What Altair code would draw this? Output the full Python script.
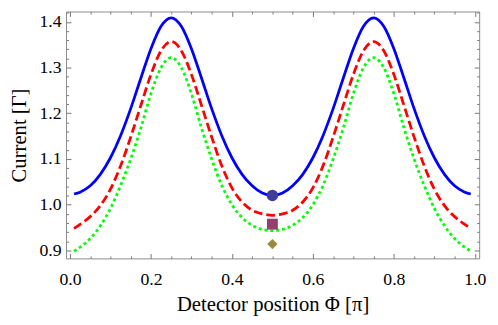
import altair as alt
import pandas as pd

# ---- data ----
x_vals = [0.01, 0.025, 0.05, 0.075, 0.1, 0.125, 0.15, 0.175, 0.2, 0.225, 0.25,
          0.275, 0.3, 0.325, 0.35, 0.375, 0.4, 0.425, 0.45, 0.475, 0.5,
          0.525, 0.55, 0.575, 0.6, 0.625, 0.65, 0.675, 0.7, 0.725, 0.75,
          0.775, 0.8, 0.825, 0.85, 0.875, 0.9, 0.925, 0.95, 0.975, 0.99]
blue_vals = [1.0235, 1.0275, 1.0414, 1.0665, 1.1028, 1.151, 1.2102, 1.2767, 1.3415, 1.3905, 1.409,
             1.3905, 1.3415, 1.2767, 1.2102, 1.151, 1.1028, 1.0665, 1.0414, 1.0255, 1.020,
             1.0255, 1.0414, 1.0665, 1.1028, 1.151, 1.2102, 1.2767, 1.3415, 1.3905, 1.409,
             1.3905, 1.3415, 1.2767, 1.2102, 1.151, 1.1028, 1.0665, 1.0414, 1.0275, 1.0235]
red_vals = [0.948, 0.957, 0.974, 0.998, 1.034, 1.085, 1.148, 1.217, 1.285, 1.337, 1.357,
            1.337, 1.285, 1.217, 1.148, 1.085, 1.037, 1.006, 0.988, 0.980, 0.977,
            0.980, 0.988, 1.006, 1.037, 1.085, 1.148, 1.217, 1.285, 1.337, 1.357,
            1.337, 1.285, 1.217, 1.148, 1.085, 1.034, 0.998, 0.974, 0.957, 0.948]
green_vals = [0.8985, 0.907, 0.926, 0.954, 0.992, 1.042, 1.100, 1.1675, 1.243, 1.300, 1.3216,
              1.300, 1.243, 1.1675, 1.100, 1.042, 1.000, 0.972, 0.955, 0.946, 0.9434,
              0.946, 0.955, 0.972, 1.000, 1.042, 1.100, 1.1675, 1.243, 1.300, 1.3216,
              1.300, 1.243, 1.1675, 1.100, 1.042, 0.992, 0.954, 0.926, 0.907, 0.8985]

point_x = [0.5, 0.5, 0.5]
point_y = [1.0204, 0.9575, 0.914]
point_name = ["circle", "square", "diamond"]

x_major = [0.0, 0.2, 0.4, 0.6, 0.8, 1.0]
x_minor = [0.05, 0.1, 0.15, 0.25, 0.3, 0.35, 0.45, 0.5, 0.55, 0.65, 0.7, 0.75, 0.85, 0.9, 0.95]
y_major = [0.9, 1.0, 1.1, 1.2, 1.3, 1.4]
y_minor = [0.92, 0.94, 0.96, 0.98, 1.02, 1.04, 1.06, 1.08, 1.12, 1.14, 1.16, 1.18,
           1.22, 1.24, 1.26, 1.28, 1.32, 1.34, 1.36, 1.38, 1.42]

# ---- layout / style ----
W, H = 420, 251
XD = [-0.0097, 1.0107]
YD = [0.8826, 1.4227]
FONT = "Liberation Serif"

lines = pd.DataFrame({"x": x_vals, "blue": blue_vals, "red": red_vals, "green": green_vals})
pts = pd.DataFrame({"x": point_x, "y": point_y, "name": point_name})

xs = alt.Scale(domain=XD, nice=False, zero=False)
ys = alt.Scale(domain=YD, nice=False, zero=False)

main_x_axis = alt.Axis(orient="bottom", values=x_major, format=".1f", ticks=False, tickSize=0,
                       domain=False, grid=False, labelFont=FONT, labelFontSize=18,
                       labelColor="black", labelPadding=27, labelBaseline="alphabetic",
                       labelFlush=False, labelOverlap=False,
                       title="Detector position Φ [π]", titleFont=FONT, titleFontSize=21,
                       titleFontWeight="normal", titleColor="black",
                       titleBaseline="alphabetic", titleY=53, titleX=W / 2)
main_y_axis = alt.Axis(orient="left", values=y_major, format=".1f", ticks=False, tickSize=0,
                       domain=False, grid=False, labelFont=FONT, labelFontSize=18,
                       labelColor="black", labelPadding=5, labelBaseline="middle",
                       labelFlush=False, labelOverlap=False,
                       title="Current [Γ]", titleFont=FONT, titleFontSize=21,
                       titleFontWeight="normal", titleColor="black", titleAngle=270,
                       titleBaseline="alphabetic", titleX=-41, titleY=H / 2)

blue = alt.Chart(lines).mark_line(color="#0000ff", strokeWidth=2.8, interpolate="monotone").encode(
    x=alt.X("x:Q", scale=xs, axis=main_x_axis),
    y=alt.Y("blue:Q", scale=ys, axis=main_y_axis),
)
red = alt.Chart(lines).mark_line(color="#ff0000", strokeWidth=2.8, strokeDash=[9, 4],
                                 interpolate="monotone").encode(
    x=alt.X("x:Q", scale=xs, axis=None),
    y=alt.Y("red:Q", scale=ys, axis=None),
)
green = alt.Chart(lines).mark_line(color="#00ff00", strokeWidth=2.8, strokeDash=[3, 3],
                                   interpolate="monotone").encode(
    x=alt.X("x:Q", scale=xs, axis=None),
    y=alt.Y("green:Q", scale=ys, axis=None),
)
points = alt.Chart(pts).mark_point(filled=True, opacity=1).encode(
    x=alt.X("x:Q", scale=xs, axis=None),
    y=alt.Y("y:Q", scale=ys, axis=None),
    shape=alt.Shape("name:N", scale=alt.Scale(domain=point_name,
                                              range=["circle", "square", "diamond"]), legend=None),
    color=alt.Color("name:N", scale=alt.Scale(domain=point_name,
                                              range=["#3d3d99", "#993d71", "#998b3d"]), legend=None),
    size=alt.Size("name:N", scale=alt.Scale(domain=point_name, range=[135, 110, 190]), legend=None),
)


def tick_layer(xorient, yorient, xvals, yvals, size):
    ax = alt.Axis(orient=xorient, offset=-H, values=xvals, labels=False, domain=False, grid=False,
                  ticks=True, tickSize=size, tickColor="#777777", tickWidth=1, title=None)
    ay = alt.Axis(orient=yorient, offset=-W, values=yvals, labels=False, domain=False, grid=False,
                  ticks=True, tickSize=size, tickColor="#777777", tickWidth=1, title=None)
    return alt.Chart(lines).mark_point(opacity=0).encode(
        x=alt.X("x:Q", scale=xs, axis=ax),
        y=alt.Y("blue:Q", scale=ys, axis=ay),
    )


t1 = tick_layer("top", "right", x_major, y_major, 5)
t2 = tick_layer("bottom", "left", x_major, y_major, 5)
t3 = tick_layer("top", "right", x_minor, y_minor, 2.5)
t4 = tick_layer("bottom", "left", x_minor, y_minor, 2.5)

chart = alt.layer(t1, t2, t3, t4, blue, red, green, points).resolve_scale(
    x="independent", y="independent", shape="independent", color="independent", size="independent"
).properties(
    width=W, height=H,
    autosize=alt.AutoSizeParams(type="none"),
    padding={"left": 59, "top": 1, "right": 11, "bottom": 57},
).configure_view(stroke="#8c8c8c", strokeWidth=1)

chart.save("out.html", embed_options={"renderer": "svg", "actions": False})
